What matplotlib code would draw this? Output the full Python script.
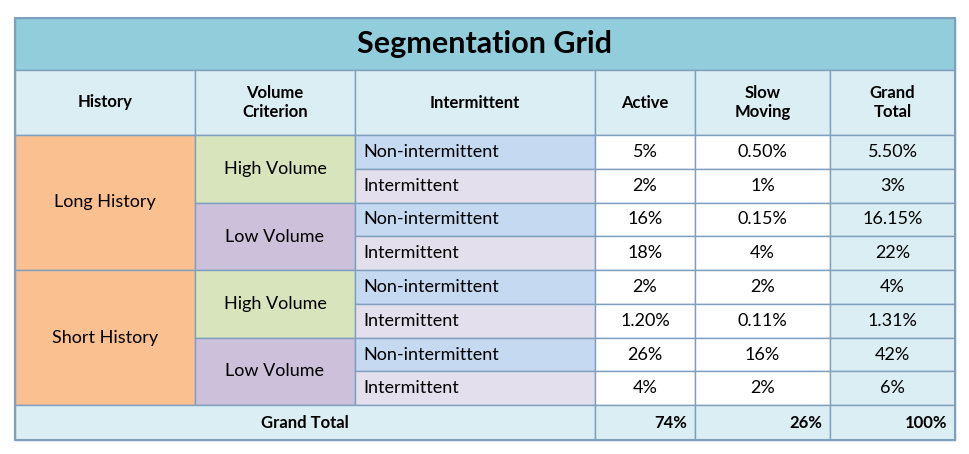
import matplotlib.pyplot as plt
from matplotlib.patches import Rectangle

title = "Segmentation Grid"
headers = ["History", "Volume\nCriterion", "Intermittent", "Active", "Slow\nMoving", "Grand\nTotal"]
history = ["Long History", "Short History"]
volume = ["High Volume", "Low Volume", "High Volume", "Low Volume"]
intermittency = ["Non-intermittent", "Intermittent"] * 4
active = ["5%", "2%", "16%", "18%", "2%", "1.20%", "26%", "4%"]
slow = ["0.50%", "1%", "0.15%", "4%", "2%", "0.11%", "16%", "2%"]
grand = ["5.50%", "3%", "16.15%", "22%", "4%", "1.31%", "42%", "6%"]
total_label = "Grand Total"
totals = ["74%", "26%", "100%"]

# column edges and row edges in pixels
xs = [15, 195, 355, 595, 695, 830, 955]
y_title = (18, 70)
y_head = (70, 135)
y_rows = [135, 169, 203, 236, 270, 304, 338, 371, 405]
y_total = (405, 440)

C_TITLE = "#92CDDC"
C_HEAD = "#DAEEF3"
C_HIST = "#FAC090"
C_HIGH = "#D7E4BC"
C_LOW = "#CCC0DA"
C_NONINT = "#C5D9F1"
C_INT = "#E4DFEC"
EDGE = "#7F9FBF"

plt.rcParams["font.family"] = ["Lato", "DejaVu Sans"]
fig = plt.figure(figsize=(9.69, 4.54), dpi=100)
ax = fig.add_axes([0, 0, 1, 1])
ax.set_xlim(0, 969)
ax.set_ylim(454, 0)
ax.axis("off")


def cell(x0, x1, y0, y1, color, text="", ha="center", size=13, weight="normal", pad=8):
    ax.add_patch(Rectangle((x0, y0), x1 - x0, y1 - y0, facecolor=color,
                           edgecolor=EDGE, linewidth=1))
    if text:
        if ha == "center":
            tx = (x0 + x1) / 2
        elif ha == "left":
            tx = x0 + pad
        else:
            tx = x1 - pad
        ax.text(tx, (y0 + y1) / 2, text, ha=ha, va="center", fontsize=size,
                fontweight=weight, color="black", linespacing=1.3)


cell(xs[0], xs[-1], *y_title, C_TITLE, title, size=22, weight="bold")
for i, h in enumerate(headers):
    cell(xs[i], xs[i + 1], *y_head, C_HEAD, h, size=12, weight="bold")

for i, h in enumerate(history):
    cell(xs[0], xs[1], y_rows[4 * i], y_rows[4 * i + 4], C_HIST, h)
for i, v in enumerate(volume):
    cell(xs[1], xs[2], y_rows[2 * i], y_rows[2 * i + 2],
         C_HIGH if v.startswith("High") else C_LOW, v)
for i in range(8):
    y0, y1 = y_rows[i], y_rows[i + 1]
    cell(xs[2], xs[3], y0, y1, C_NONINT if i % 2 == 0 else C_INT,
         intermittency[i], ha="left")
    cell(xs[3], xs[4], y0, y1, "white", active[i])
    cell(xs[4], xs[5], y0, y1, "white", slow[i])
    cell(xs[5], xs[6], y0, y1, C_HEAD, grand[i])

cell(xs[0], xs[3], *y_total, C_HEAD, total_label, size=12, weight="bold")
for j, t in enumerate(totals):
    cell(xs[3 + j], xs[4 + j], *y_total, C_HEAD, t, ha="right", size=12, weight="bold")

ax.add_patch(Rectangle((xs[0], y_title[0]), xs[-1] - xs[0], y_total[1] - y_title[0],
                       fill=False, edgecolor=EDGE, linewidth=1.5))
fig.savefig("out.png", dpi=100)
